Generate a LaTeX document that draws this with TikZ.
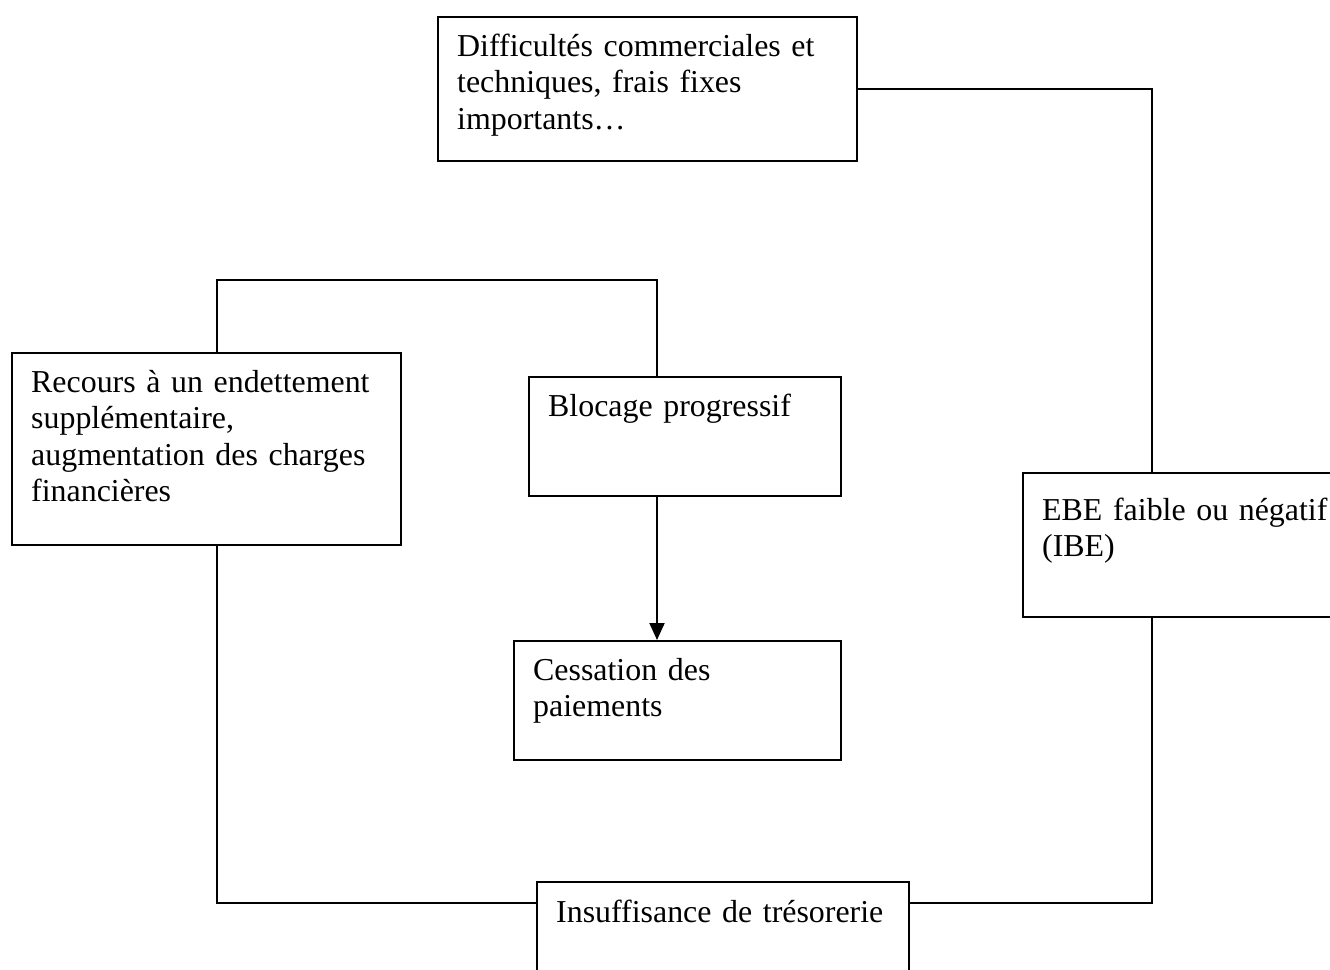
\documentclass[tikz,border=0pt]{standalone}
\usepackage{fontspec}
\setmainfont{Liberation Serif}
\usetikzlibrary{arrows.meta}
\begin{document}
\begin{tikzpicture}[x=1pt,y=-1pt,
  box/.style={draw, line width=2pt, rectangle, inner sep=0pt, anchor=north west},
  txt/.style={anchor=base west, inner sep=0pt, align=left, text width=600pt,
    font=\fontsize{31.9pt}{36.5pt}\selectfont},
  link/.style={line width=2pt},
  arr/.style={line width=2pt, -{Triangle[width=15pt,length=17pt]}}]
\useasboundingbox (0,0) rectangle (1330,969);
\clip (0,0) rectangle (1330,969);

% boxes
\node[box, minimum width=419pt, minimum height=144pt] (dif) at (437,16) {};
\node[box, minimum width=389pt, minimum height=192pt] (rec) at (11,352) {};
\node[box, minimum width=312pt, minimum height=119pt] (blo) at (528,376) {};
\node[box, minimum width=327pt, minimum height=119pt] (ces) at (513,640) {};
\node[box, minimum width=340pt, minimum height=144pt] (ebe) at (1022,472) {};
\node[box, minimum width=372pt, minimum height=120pt] (ins) at (536,881) {};

% texts
\node[txt] (tdif) at ([shift={(20,40)}]dif.north west)
  {Difficultés commerciales et\\techniques, frais fixes\\importants…};
\node[txt] (trec) at ([shift={(20,40)}]rec.north west)
  {Recours à un endettement\\supplémentaire,\\augmentation des charges\\financières};
\node[txt] (tblo) at ([shift={(20,40)}]blo.north west) {Blocage progressif};
\node[txt] (tces) at ([shift={(20,40)}]ces.north west) {Cessation des\\paiements};
\node[txt] (tebe) at ([shift={(20,48)}]ebe.north west) {EBE faible ou négatif\\(IBE)};
\node[txt] (tins) at ([shift={(20,41)}]ins.north west) {Insuffisance de trésorerie};

% connectors
\draw[link] (dif.east) -| ([xshift=130pt]ebe.north west);
\draw[link] ([xshift=130pt]ebe.south west) |- ([yshift=-22pt]ins.north east);
\draw[link] ([xshift=206pt]rec.south west) |- ([yshift=-22pt]ins.north west);
\draw[link] ([xshift=206pt]rec.north west) -- ++(0,-72) -| ([xshift=129pt]blo.north west);
\draw[arr] ([xshift=129pt]blo.south west) -- ([xshift=144pt]ces.north west);
\end{tikzpicture}
\end{document}
